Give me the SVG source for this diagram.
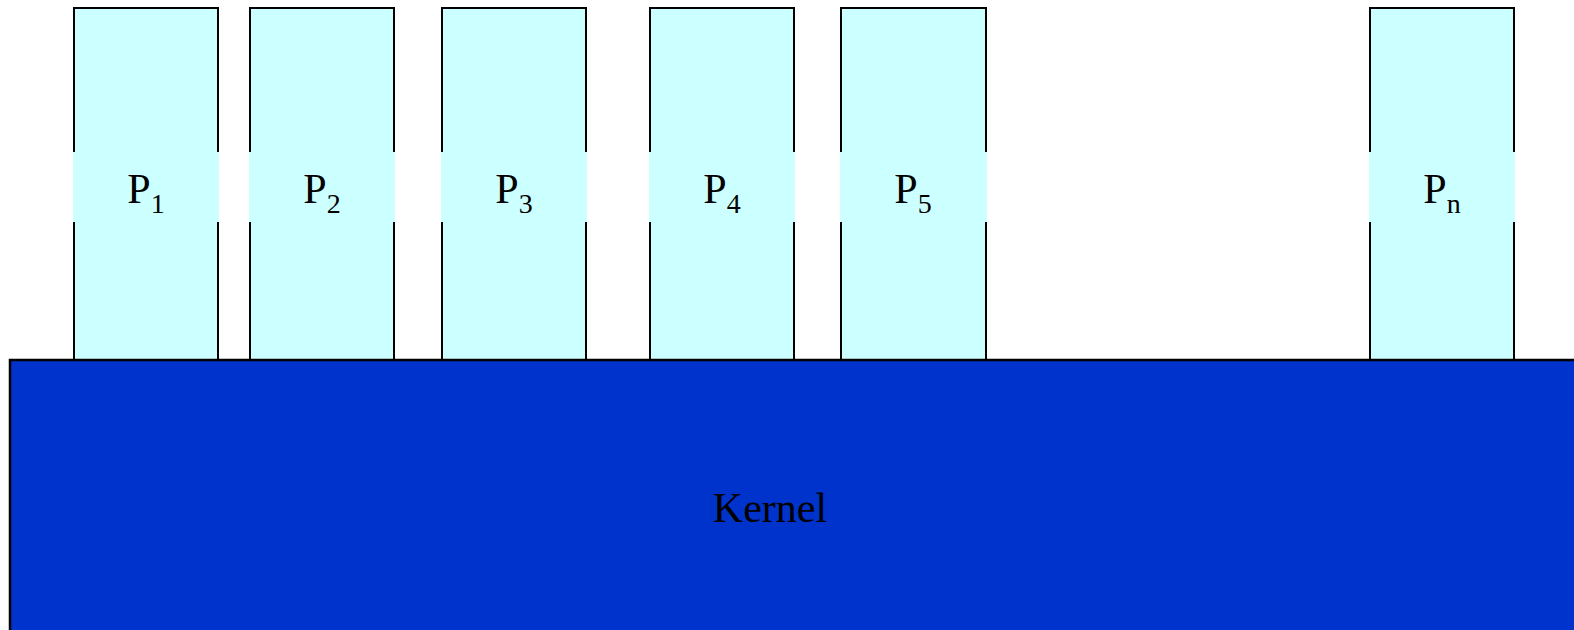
<svg xmlns="http://www.w3.org/2000/svg" width="1574" height="630" viewBox="0 0 1574 630">
  <style>
    .proc { fill: #CCFFFF; stroke: #000000; stroke-width: 2; }
    .lblbg { fill: #CCFFFF; stroke: none; }
    .kernel { fill: #0033CC; stroke: #000000; stroke-width: 2.5; }
    .lbl { font-family: "Liberation Serif", "Times New Roman", serif; font-size: 42px; fill: #000000; }
    .sub { font-size: 28px; }
  </style>
  <rect width="1574" height="630" fill="#FFFFFF"/>

  <!-- processes -->
  <g id="p1">
    <rect class="proc" x="74" y="8" width="144" height="352"/>
    <rect class="lblbg" x="73" y="152" width="146" height="70"/>
    <text class="lbl" x="146" y="203" text-anchor="middle">P<tspan class="sub" dy="10">1</tspan></text>
  </g>
  <g id="p2">
    <rect class="proc" x="250" y="8" width="144" height="352"/>
    <rect class="lblbg" x="249" y="152" width="146" height="70"/>
    <text class="lbl" x="322" y="203" text-anchor="middle">P<tspan class="sub" dy="10">2</tspan></text>
  </g>
  <g id="p3">
    <rect class="proc" x="442" y="8" width="144" height="352"/>
    <rect class="lblbg" x="441" y="152" width="146" height="70"/>
    <text class="lbl" x="514" y="203" text-anchor="middle">P<tspan class="sub" dy="10">3</tspan></text>
  </g>
  <g id="p4">
    <rect class="proc" x="650" y="8" width="144" height="352"/>
    <rect class="lblbg" x="649" y="152" width="146" height="70"/>
    <text class="lbl" x="722" y="203" text-anchor="middle">P<tspan class="sub" dy="10">4</tspan></text>
  </g>
  <g id="p5">
    <rect class="proc" x="841" y="8" width="145" height="352"/>
    <rect class="lblbg" x="840" y="152" width="147" height="70"/>
    <text class="lbl" x="913" y="203" text-anchor="middle">P<tspan class="sub" dy="10">5</tspan></text>
  </g>
  <g id="pn">
    <rect class="proc" x="1370" y="8" width="144" height="352"/>
    <rect class="lblbg" x="1369" y="152" width="146" height="70"/>
    <text class="lbl" x="1442" y="203" text-anchor="middle">P<tspan class="sub" dy="10">n</tspan></text>
  </g>

  <!-- kernel -->
  <g id="kernel">
    <rect class="kernel" x="10" y="360" width="1580" height="290"/>
    <text class="lbl" x="770" y="522" text-anchor="middle">Kernel</text>
  </g>

  <g id="connectors"></g>
</svg>
